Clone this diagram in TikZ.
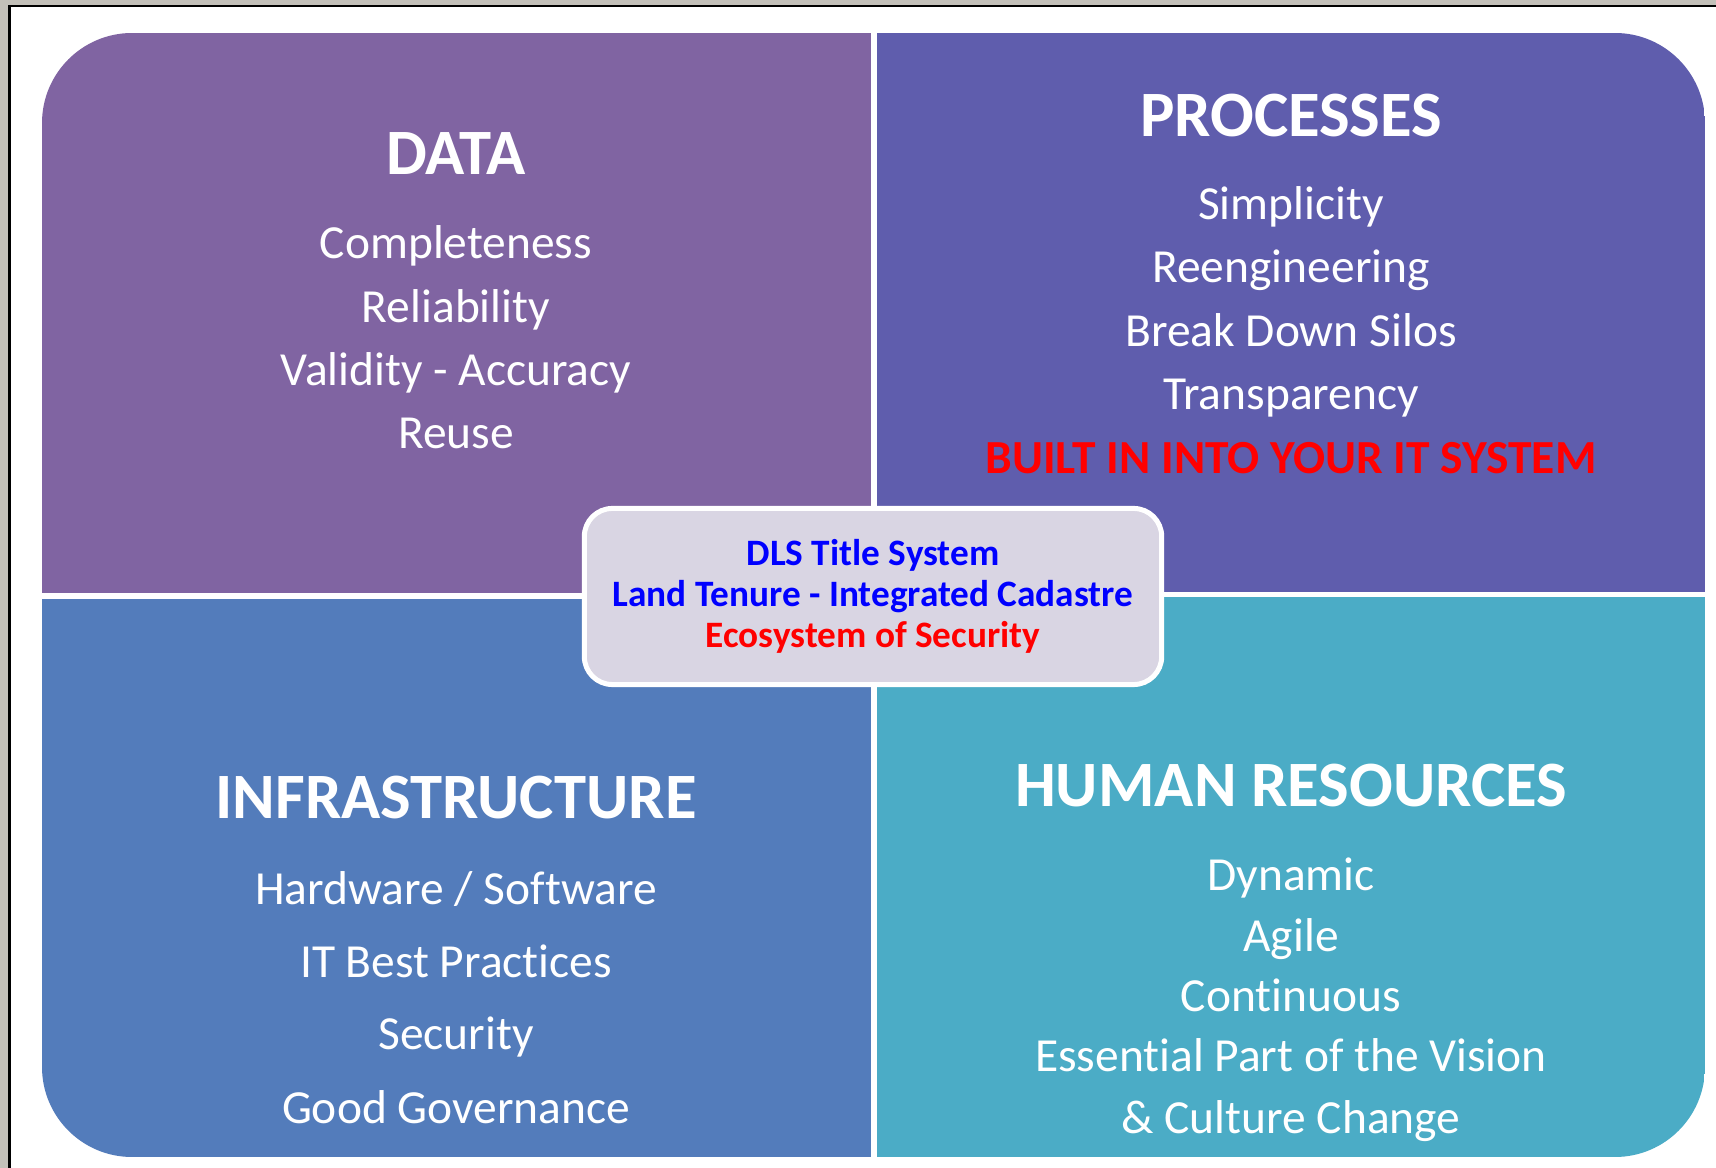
\documentclass[tikz,border=0pt]{standalone}
\usepackage{fontspec}
\setmainfont[Ligatures=NoCommon]{Carlito}

\definecolor{datafill}{RGB}{128,100,162}
\definecolor{procfill}{RGB}{95,93,173}
\definecolor{infrafill}{RGB}{83,124,187}
\definecolor{hrfill}{RGB}{75,172,198}
\definecolor{hubfill}{RGB}{217,213,227}
\definecolor{framegray}{RGB}{195,192,185}

\tikzset{
    head/.style={anchor=base, inner sep=0pt, text=white,
        font=\bfseries\fontsize{18.4}{22}\selectfont},
    item/.style={anchor=base, inner sep=0pt, text=white,
        font=\fontsize{13.5}{16}\selectfont},
    hub/.style={draw=white, line width=0.05cm, fill=hubfill,
        rounded corners=0.28cm, minimum width=5.77cm, minimum height=1.76cm,
        align=center, font=\bfseries\fontsize{10.6}{11.7}\selectfont}
}

\begin{document}
\begin{tikzpicture}[x=0.01cm, y=-0.01cm]
    \useasboundingbox (0, 0) rectangle (1716, 1168);
    \fill[white] (0, 0) rectangle (1716, 1168);
    % page frame
    \fill[framegray] (0, 0) rectangle (1716, 5);
    \fill[framegray] (0, 0) rectangle (8, 1168);
    \fill[black] (8, 5) rectangle (1716, 7);
    \fill[black] (8, 5) rectangle (11, 1168);

    % four quarters
    \begin{scope}
        \clip[rounded corners=0.9cm] (42, 33) rectangle (1705, 1157);
        \fill[datafill] (42, 33) rectangle (871, 593);
        \fill[procfill] (877, 33) rectangle (1705, 592);
        \fill[infrafill] (42, 599) rectangle (871, 1157);
        \fill[hrfill] (877, 597) rectangle (1705, 1157);
    \end{scope}

    \node[head] (data) at (456, 175) {DATA};
    \node[item] (data1) at (456, 259) {Completeness};
    \node[item] (data2) at (456, 323) {Reliability};
    \node[item] (data3) at (456, 386) {Validity - Accuracy};
    \node[item] (data4) at (456, 449) {Reuse};

    \node[head] (proc) at (1291, 137) {PROCESSES};
    \node[item] (proc1) at (1291, 220) {Simplicity};
    \node[item] (proc2) at (1291, 283) {Reengineering};
    \node[item] (proc3) at (1291, 347) {Break Down Silos};
    \node[item] (proc4) at (1291, 410) {Transparency};
    \node[item, text=red, font=\bfseries\fontsize{13.5}{16}\selectfont] (proc5) at (1291, 474) {BUILT IN INTO YOUR IT SYSTEM};

    \node[head] (infra) at (456, 819) {INFRASTRUCTURE};
    \node[item] (infra1) at (456, 904) {Hardware / Software};
    \node[item] (infra2) at (456, 977) {IT Best Practices};
    \node[item] (infra3) at (456, 1049) {Security};
    \node[item] (infra4) at (456, 1123) {Good Governance};

    \node[head] (hr) at (1291, 807) {HUMAN RESOURCES};
    \node[item] (hr1) at (1291, 890) {Dynamic};
    \node[item] (hr2) at (1291, 951) {Agile};
    \node[item] (hr3) at (1291, 1011) {Continuous};
    \node[item] (hr4) at (1291, 1071) {Essential Part of the Vision};
    \node[item] (hr5) at (1291, 1133) {\& Culture Change};

    % centre box
    \node[hub] (title) at (873, 596.5) {\textcolor{blue}{DLS Title System}\\
        \textcolor{blue}{Land Tenure - Integrated Cadastre}\\
        \textcolor{red}{Ecosystem of Security}};
\end{tikzpicture}
\end{document}
